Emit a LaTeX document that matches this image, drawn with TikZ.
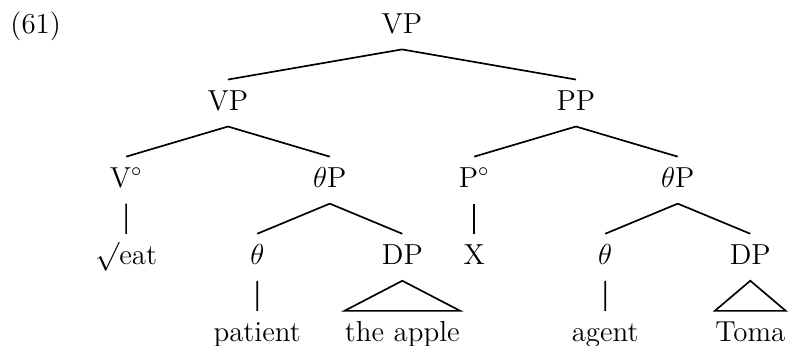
\documentclass[tikz,border=0pt,12pt]{standalone}
\usepackage{amsmath}
\usepackage{amssymb}
\usepackage{tikz}
\tikzstyle{roof} = [edge from parent path={(\tikzparentnode.south) -- (\tikzchildnode.north west) -- (\tikzchildnode.north east) -- cycle}]

\begin{document}
\begin{tikzpicture}[
    level distance=32pt,
    level 1/.style={sibling distance=144.4pt},
    level 2/.style={sibling distance=84.5pt},
    level 3/.style={sibling distance=60.2pt},
    edge from parent/.style={draw,line width=0.7pt},
    parent anchor=south, child anchor=north,
    every node/.style={text height=10.5pt, text depth=4.6pt, inner ysep=2pt}
]
\useasboundingbox (0,0) rectangle (327pt,-143.2pt);
\node[anchor=base west, inner sep=0pt] (ex) at (4.15pt,-13.7pt) {(61)};
% 主树
\node (vp) at (166.8pt,-10.75pt) {VP}
    child { node (vpl) {VP}
        child { node (v) {V$^\circ$}
            child { node (eat) {$\surd$eat} }
        }
        child { node (thpl) {$\theta$P}
            child { node (thl) {$\theta$}
                child { node (pat) {patient} }
            }
            child { node (dpl) {DP}
                child[roof] { node[inner xsep=0pt] (apple) {the apple} }
            }
        }
    }
    child { node (pp) {PP}
        child { node (p) {P$^\circ$}
            child { node (x) {X} }
        }
        child { node (thpr) {$\theta$P}
            child { node (thr) {$\theta$}
                child { node (agt) {agent} }
            }
            child { node (dpr) {DP}
                child[roof] { node[inner xsep=0pt] (toma) {Toma} }
            }
        }
    };
\end{tikzpicture}
\end{document}
